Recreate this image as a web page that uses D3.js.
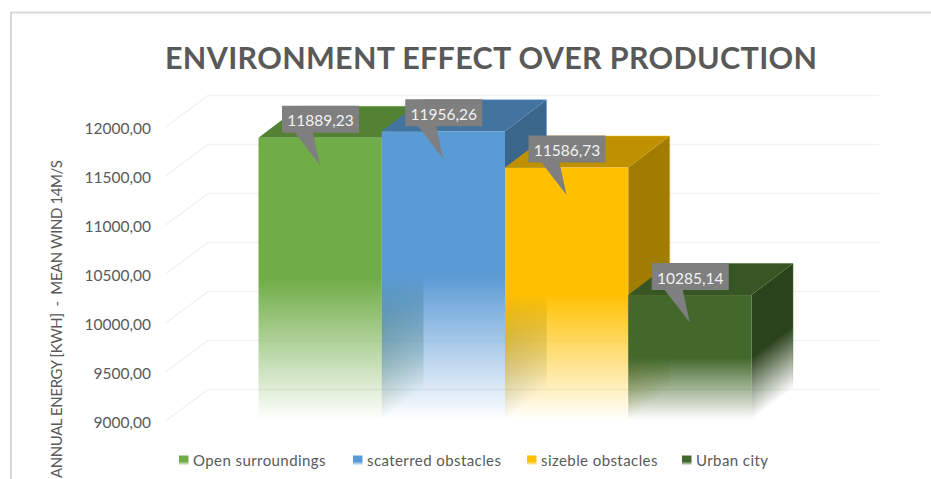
<!DOCTYPE html>
<html>
<head>
<meta charset="utf-8">
<script src="https://cdn.jsdelivr.net/npm/d3@7"></script>
<style>
  html, body { margin: 0; padding: 0; background: #fff; overflow: hidden; }
  text { font-family: Lato, "Open Sans", sans-serif; }
</style>
</head>
<body>
<svg id="chart" width="931" height="479"></svg>
<script>
var categories = ['Open surroundings', 'scaterred obstacles', 'sizeble obstacles', 'Urban city'];
var values = [11889.23, 11956.26, 11586.73, 10285.14];
var valueLabels = ['11889,23', '11956,26', '11586,73', '10285,14'];
var tickValues = [9000, 9500, 10000, 10500, 11000, 11500, 12000];
var frontColors = ['#70ad47', '#5b9bd5', '#ffc000', '#43682b'];
var topColors = ['#548235', '#4374a0', '#bf9000', '#375623'];
var sideColors = ['#466d2c', '#3a668c', '#a07c00', '#2b431c'];

var depthX = 41.5;
var depthY = -31.5;
var baseline = 420;

var svg = d3.select('#chart');
var defs = svg.append('defs');

var y = d3.scaleLinear().domain([9000, 12000]).range([421, 127]);
var x = d3.scaleBand().domain(categories).range([258.5, 751.5]).padding(0);
var tickFormat = function(d) { return d3.format('.2f')(d).replace('.', ','); };

// chart frame, only top and left are in the picture
svg.append('path')
  .attr('d', 'M931,12.5H11V479')
  .attr('fill', 'none')
  .attr('stroke', '#d9d9d9')
  .attr('stroke-width', 2);

svg.append('text')
  .attr('x', 165)
  .attr('y', 69)
  .attr('textLength', 652)
  .attr('font-size', 30.5)
  .attr('font-weight', 700)
  .attr('fill', '#595959')
  .text('ENVIRONMENT EFFECT OVER PRODUCTION');

// floor edge and back wall of the 3d grid
svg.append('g').selectAll('path')
  .data(tickValues)
  .join('path')
  .attr('d', function(d) {
    var py = y(d);
    return 'M165.5,' + py + 'L208,' + (py + depthY) + 'H879';
  })
  .attr('fill', 'none')
  .attr('stroke', '#f2f2f2')
  .attr('stroke-width', 1.5);

var axis = svg.append('g')
  .attr('transform', 'translate(151,1.5)')
  .call(d3.axisLeft(y).tickValues(tickValues).tickFormat(tickFormat).tickSize(0).tickPadding(0));
axis.select('.domain').remove();
axis.selectAll('text')
  .attr('font-size', 15.5)
  .attr('fill', '#595959')
  .style('font-family', 'Lato');

svg.append('text')
  .attr('transform', 'translate(61.5,478) rotate(-90)')
  .attr('font-size', 15)
  .attr('textLength', 318)
  .attr('fill', '#595959')
  .style('white-space', 'pre')
  .text('ANNUAL ENERGY [KWH]  -  MEAN WIND 14M/S');

// fade stops shared by the front faces and the legend keys
function addFade(id, color, start) {
  var grad = defs.append('linearGradient').attr('id', id);
  grad.append('stop').attr('offset', start).attr('stop-color', color).attr('stop-opacity', 1);
  grad.append('stop').attr('offset', 1).attr('stop-color', color).attr('stop-opacity', 0);
  return grad;
}

categories.forEach(function(name, i) {
  var x0 = x(name);
  var x1 = x0 + x.bandwidth();
  var top = y(values[i]);
  var h = baseline - top;

  addFade('front' + i, frontColors[i], 0.5)
    .attr('x1', 0).attr('y1', 0).attr('x2', 0).attr('y2', 1);

  // the side fades along the slant of its lower edge
  var sum = depthX * depthX + depthY * depthY;
  addFade('side' + i, sideColors[i], 0.5)
    .attr('gradientUnits', 'userSpaceOnUse')
    .attr('x1', x1).attr('y1', top)
    .attr('x2', x1 + h * depthX * -depthY / sum)
    .attr('y2', top + h * depthX * depthX / sum);

  addFade('edge' + i, frontColors[i], 0.5)
    .attr('gradientUnits', 'userSpaceOnUse')
    .attr('x1', 0).attr('y1', top + depthY)
    .attr('x2', 0).attr('y2', baseline + depthY);

  var bar = svg.append('g').attr('class', 'bar');

  bar.append('path')
    .attr('d', 'M' + x1 + ',' + top + 'L' + (x1 + depthX) + ',' + (top + depthY) +
      'V' + (baseline + depthY) + 'L' + x1 + ',' + baseline + 'Z')
    .attr('fill', 'url(#side' + i + ')');

  bar.append('path')
    .attr('d', 'M' + x0 + ',' + top + 'L' + (x0 + depthX) + ',' + (top + depthY) +
      'H' + (x1 + depthX) + 'L' + x1 + ',' + top + 'Z')
    .attr('fill', topColors[i]);

  // thin pale outline on the back edges
  bar.append('path')
    .attr('d', 'M' + (x0 + depthX) + ',' + (top + depthY) + 'H' + (x1 + depthX) +
      'V' + (baseline + depthY))
    .attr('fill', 'none')
    .attr('stroke', 'url(#edge' + i + ')')
    .attr('stroke-opacity', 0.6)
    .attr('stroke-width', 0.8);

  bar.append('rect')
    .attr('x', x0)
    .attr('y', top)
    .attr('width', x.bandwidth())
    .attr('height', h)
    .attr('fill', 'url(#front' + i + ')');
});

// callouts go over all the bars
categories.forEach(function(name, i) {
  var x0 = x(name);
  var top = y(values[i]);
  var label = svg.append('g').attr('transform', 'translate(' + x0 + ',' + top + ')');

  label.append('path')
    .attr('d', 'M23.5,-32H100.5V-5H54.5L61.5,27.5L36.5,-5H23.5Z')
    .attr('fill', '#7f7f7f');

  label.append('text')
    .attr('x', 62)
    .attr('y', -11.5)
    .attr('text-anchor', 'middle')
    .attr('font-size', 15.5)
    .attr('fill', '#f2f2f2')
    .text(valueLabels[i]);
});

var legendKeyX = [179, 353, 527, 682];
var legend = svg.append('g').selectAll('g')
  .data(categories)
  .join('g')
  .attr('transform', function(d, i) { return 'translate(' + legendKeyX[i] + ',0)'; });

legend.each(function(d, i) {
  addFade('key' + i, frontColors[i], 0.6)
    .attr('x1', 0).attr('y1', 0).attr('x2', 0).attr('y2', 1);
});

legend.append('rect')
  .attr('y', 455.5)
  .attr('width', 9.5)
  .attr('height', 10)
  .attr('fill', function(d, i) { return 'url(#key' + i + ')'; });

legend.append('text')
  .attr('x', 14)
  .attr('y', 465.5)
  .attr('font-size', 15)
  .attr('letter-spacing', 0.42)
  .attr('fill', '#595959')
  .text(function(d) { return d; });
</script>
</body>
</html>
